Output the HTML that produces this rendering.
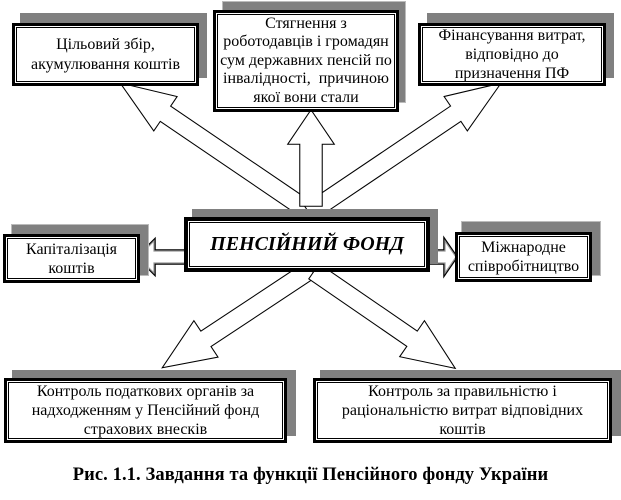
<!DOCTYPE html>
<html><head><meta charset="utf-8"><style>
html,body{margin:0;padding:0;background:#fff;}
body{width:621px;height:500px;position:relative;overflow:hidden;font-family:"Liberation Serif",serif;}
.sh{position:absolute;background:#808080;}
.b{position:absolute;box-sizing:border-box;background:#fff;border:3px solid #000;box-shadow:inset 0 0 0 1px #fff,inset 0 0 0 2px #000;display:flex;align-items:center;justify-content:center;text-align:center;font-size:16px;line-height:19px;color:#000;}
svg{position:absolute;left:0;top:0;}
.cap{position:absolute;left:0;width:621px;top:465px;text-align:center;font-weight:bold;font-size:18.5px;letter-spacing:0.1px;}
</style></head><body>
<svg width="621" height="500">
<g fill="#fff" stroke-linejoin="miter">
<g transform="translate(310,212) rotate(-145.8)">
<polygon points="0,-8 176,-8 176,-19 226,0 176,19 176,8 0,8" stroke="#000" stroke-width="3.5"/>
<polygon points="0,-8 176,-8 176,-19 226,0 176,19 176,8 0,8" stroke="#fff" stroke-width="1.4"/>
</g>
<g transform="translate(310,212) rotate(-34)">
<polygon points="0,-8 177,-8 177,-19 227,0 177,19 177,8 0,8" stroke="#000" stroke-width="3.5"/>
<polygon points="0,-8 177,-8 177,-19 227,0 177,19 177,8 0,8" stroke="#fff" stroke-width="1.4"/>
</g>
<g transform="translate(311,205) rotate(-90)">
<polygon points="0,-10 62,-10 62,-21 93,0 62,21 62,10 0,10" stroke="#000" stroke-width="3.5"/>
<polygon points="0,-10 62,-10 62,-21 93,0 62,21 62,10 0,10" stroke="#fff" stroke-width="1.4"/>
</g>
<g transform="translate(310,270) rotate(146.5)">
<polygon points="0,-8 126,-8 126,-20 174,0 126,20 126,8 0,8" stroke="#000" stroke-width="3.5"/>
<polygon points="0,-8 126,-8 126,-20 174,0 126,20 126,8 0,8" stroke="#fff" stroke-width="1.4"/>
</g>
<g transform="translate(315,272) rotate(34.5)">
<polygon points="0,-8 119,-8 119,-20 167,0 119,20 119,8 0,8" stroke="#000" stroke-width="3.5"/>
<polygon points="0,-8 119,-8 119,-20 167,0 119,20 119,8 0,8" stroke="#fff" stroke-width="1.4"/>
</g>
<g transform="translate(188,257) rotate(180)">
<polygon points="0,-6 34,-6 34,-16 50,0 34,16 34,6 0,6" stroke="#000" stroke-width="3.5"/>
<polygon points="0,-6 34,-6 34,-16 50,0 34,16 34,6 0,6" stroke="#999" stroke-width="1.2"/>
</g>
<g transform="translate(428,257)">
<polygon points="0,-6 17,-6 17,-16 28,0 17,16 17,6 0,6" stroke="#000" stroke-width="3.5"/>
<polygon points="0,-6 17,-6 17,-16 28,0 17,16 17,6 0,6" stroke="#999" stroke-width="1.2"/>
</g>
</g>
</svg>

<div class="sh" style="left:20px;top:13px;width:187px;height:65px"></div>
<div class="b" style="left:12px;top:23px;width:187px;height:63px;line-height:20px">Цільовий збір,<br>акумулювання коштів</div>

<div class="sh" style="left:223px;top:2px;width:182px;height:100px;outline:1px solid #bbb"></div>
<div class="b" style="left:213px;top:10px;width:186px;height:102px;line-height:18.5px">Стягнення з<br>роботодавців і громадян<br>сум державних пенсій по<br>інвалідності,&nbsp; причиною<br>якої вони стали</div>

<div class="sh" style="left:427px;top:13px;width:187px;height:65px"></div>
<div class="b" style="left:418px;top:23px;width:188px;height:63px">Фінансування витрат,<br>відповідно до<br>призначення ПФ</div>

<div class="sh" style="left:192px;top:209px;width:246px;height:55px"></div>
<div class="b" style="left:184px;top:217px;width:246px;height:55px;border-width:4px;font-weight:bold;font-style:italic;font-size:20px;">ПЕНСІЙНИЙ ФОНД</div>

<div class="sh" style="left:12px;top:225px;width:136px;height:50px;outline:1px solid #bbb"></div>
<div class="b" style="left:3px;top:234px;width:137px;height:49px">Капіталізація<br>коштів</div>

<div class="sh" style="left:462px;top:222px;width:138px;height:53px;outline:1px solid #bbb"></div>
<div class="b" style="left:455px;top:232px;width:137px;height:50px">Міжнародне<br>співробітництво</div>

<div class="sh" style="left:12px;top:370px;width:284px;height:66px"></div>
<div class="b" style="left:4px;top:378px;width:283px;height:65px">Контроль податкових органів за<br>надходженням у Пенсійний фонд<br>страхових внесків</div>

<div class="sh" style="left:320px;top:370px;width:301px;height:66px"></div>
<div class="b" style="left:313px;top:378px;width:299px;height:65px">Контроль за правильністю і<br>раціональністю витрат відповідних<br>коштів</div>

<div class="cap">Рис. 1.1. Завдання та функції Пенсійного фонду України</div>
</body></html>
